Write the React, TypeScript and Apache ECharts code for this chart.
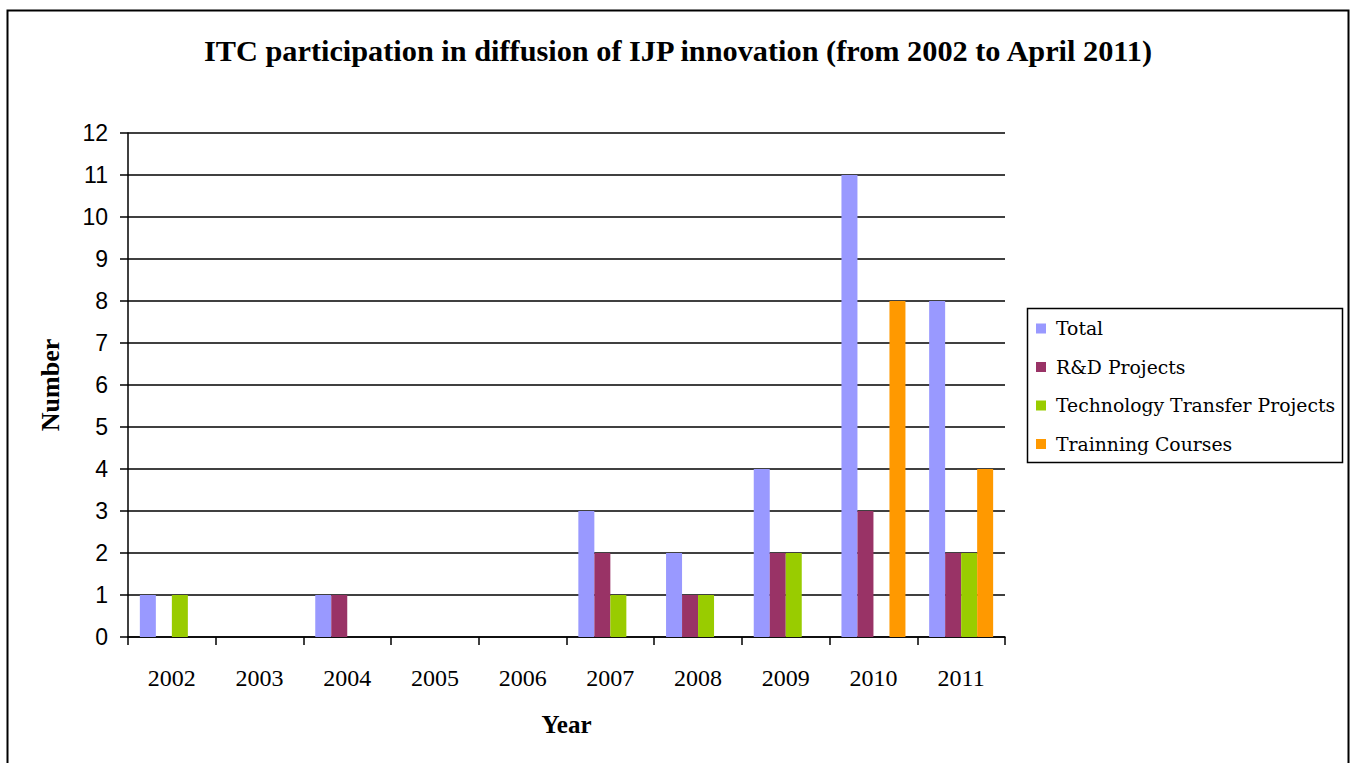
import React, { useEffect, useRef } from "react";
import * as echarts from "echarts";

const years = ["2002", "2003", "2004", "2005", "2006", "2007", "2008", "2009", "2010", "2011"];
const total = [1, 0, 1, 0, 0, 3, 2, 4, 11, 8];
const rdProjects = [0, 0, 1, 0, 0, 2, 1, 2, 3, 2];
const techTransfer = [1, 0, 0, 0, 0, 1, 1, 2, 0, 2];
const training = [0, 0, 0, 0, 0, 0, 0, 0, 8, 4];
const seriesNames = ["Total", "R&D Projects", "Technology Transfer Projects", "Trainning Courses"];
const colors = ["#9999FF", "#993366", "#99CC00", "#FF9900"];

export default function App() {
  const ref = useRef<HTMLDivElement>(null);
  useEffect(() => {
    if (!ref.current) return;
    const chart = echarts.init(ref.current, null, { renderer: "svg" });
    const values = [total, rdProjects, techTransfer, training];
    chart.setOption({
      animation: false,
      backgroundColor: "#ffffff",
      title: {
        text: "ITC participation in diffusion of IJP innovation (from 2002 to April 2011)",
        left: 673,
        textAlign: "center",
        top: 31,
        textStyle: { fontFamily: "Liberation Serif", fontWeight: "bold", fontSize: 30.3, color: "#000" },
      },
      graphic: [
        {
          type: "rect",
          shape: { x: 7.5, y: 10.5, width: 1341, height: 770 },
          style: { fill: "none", stroke: "#000", lineWidth: 2 },
          silent: true,
        },
        {
          type: "rect",
          shape: { x: 1027.5, y: 308.5, width: 315, height: 154 },
          style: { fill: "none", stroke: "#000", lineWidth: 1.5 },
          silent: true,
        },
      ],
      legend: {
        orient: "vertical",
        left: 1031,
        top: 314,
        itemWidth: 10,
        itemHeight: 10,
        itemGap: 19.5,
        icon: "rect",
        data: seriesNames,
        textStyle: { fontFamily: "DejaVu Serif", fontSize: 18.8, color: "#000", padding: [0, 0, 0, 5] },
      },
      grid: { left: 128, top: 133, right: 346, bottom: 126, containLabel: false },
      xAxis: {
        type: "category",
        data: years,
        name: "Year",
        nameLocation: "middle",
        nameGap: 75,
        nameTextStyle: { fontFamily: "Liberation Serif", fontWeight: "bold", fontSize: 25, color: "#000" },
        axisLine: { lineStyle: { color: "#000", width: 1.5 } },
        axisTick: { show: true, length: 8, interval: 0, alignWithLabel: false, lineStyle: { color: "#000", width: 1.5 } },
        axisLabel: { fontFamily: "Liberation Serif", fontSize: 24, color: "#000", margin: 29, interval: 0 },
      },
      yAxis: {
        type: "value",
        min: 0,
        max: 12,
        interval: 1,
        name: "Number",
        nameLocation: "middle",
        nameGap: 65,
        nameRotate: 90,
        nameTextStyle: { fontFamily: "Liberation Serif", fontWeight: "bold", fontSize: 26, color: "#000" },
        axisLine: { show: true, lineStyle: { color: "#000", width: 1.5 } },
        axisTick: { show: true, length: 8, lineStyle: { color: "#000", width: 1.5 } },
        axisLabel: { fontFamily: "Liberation Sans", fontSize: 23, color: "#000", margin: 20 },
        splitLine: { show: true, lineStyle: { color: "#000", width: 1.5 } },
      },
      series: seriesNames.map((name, i) => ({
        name,
        type: "bar",
        data: values[i],
        barWidth: 16,
        barGap: "0%",
        itemStyle: { color: colors[i] },
      })),
    });
    return () => chart.dispose();
  }, []);
  return (
    <div
      ref={ref}
      style={{ position: "absolute", left: 0, top: 0, width: 1351, height: 763 }}
    />
  );
}
